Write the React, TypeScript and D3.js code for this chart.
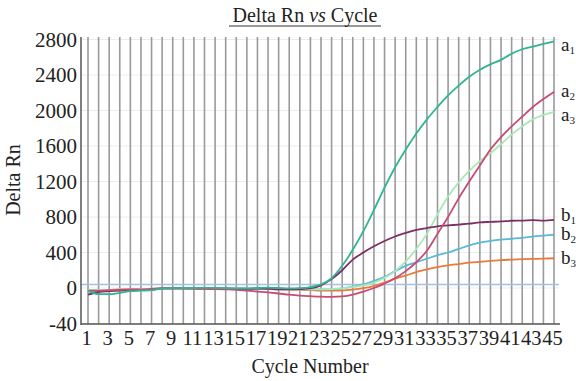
import React from "react";
import * as d3 from "d3";

const cycles = [1,2,3,4,5,6,7,8,9,10,11,12,13,14,15,16,17,18,19,20,21,22,23,24,25,26,27,28,29,30,31,32,33,34,35,36,37,38,39,40,41,42,43,44,45];

const a1 = [-30,-70,-70,-55,-35,-30,-25,-5,-2,0,0,2,0,-2,-5,-5,0,5,0,-5,-2,10,40,110,250,430,640,880,1130,1360,1560,1740,1900,2040,2170,2280,2380,2460,2520,2570,2640,2690,2720,2750,2780];
const a2 = [-30,-30,-25,-20,-15,-15,-10,-5,-5,-5,-8,-10,-12,-15,-20,-30,-40,-50,-62,-75,-85,-92,-98,-100,-95,-75,-40,0,50,110,190,290,420,610,800,1010,1200,1380,1560,1700,1820,1930,2040,2130,2210];
const a3 = [-20,-20,-20,-15,-15,-10,-10,-5,-5,-5,-5,-5,-5,-5,-5,-5,-8,-10,-10,-12,-15,-15,-15,-12,-5,10,30,60,115,190,300,440,610,830,1030,1190,1320,1430,1520,1620,1730,1820,1900,1950,1985];
const b1 = [-75,-45,-35,-30,-20,-20,-20,-5,-5,-5,-3,-3,-5,-8,-10,-10,-8,-10,-15,-15,-12,-5,30,100,200,320,400,470,530,580,620,655,675,695,705,715,725,740,745,750,758,760,765,760,768];
const b2 = [-40,-35,-30,-25,-20,-20,-15,-5,-5,-5,-5,-5,-5,-5,-5,-5,-5,-10,-10,-10,-12,-15,-15,-15,-5,15,40,80,125,190,250,290,330,370,400,440,480,510,530,545,555,565,580,590,600];
const b3 = [-20,-20,-20,-15,-15,-15,-10,-5,-5,-5,-5,-5,-5,-5,-8,-10,-10,-12,-15,-18,-20,-25,-30,-30,-28,-18,-2,22,60,105,140,180,210,235,255,270,285,295,305,315,320,325,328,330,335];

const seriesNames = ["b3", "b2", "a3", "b1", "a2", "a1"];
const seriesValues = [b3, b2, a3, b1, a2, a1];
const seriesColors = ["#ea7a3a", "#58b9d8", "#a9e8b4", "#7c2f64", "#c84b76", "#2fb592"];

const labelMain = ["a", "a", "a", "b", "b", "b"];
const labelSub = ["1", "2", "3", "1", "2", "3"];
const labelBaselines = [51, 97, 121, 221, 240, 264];

const yTickValues = [-400, 0, 400, 800, 1200, 1600, 2000, 2400, 2800];
const yTickLabels = ["-40", "0", "400", "800", "1200", "1600", "2000", "2400", "2800"];
const xTickValues = [1,3,5,7,9,11,13,15,17,19,21,23,25,27,29,31,33,35,37,39,41,43,45];
const threshold = 40;

const W = 576, H = 381;
const left = 81, right = 559, top = 37, bottom = 324;

export default function App() {
  const x = d3.scaleLinear().domain([1, 45]).range([88, 554]);
  const y = d3.scaleLinear().domain([-400, 2800]).range([323.5, 39.5]);
  const line = d3.line<number>()
    .x((_, i) => x(cycles[i]))
    .y((d) => y(d))
    .curve(d3.curveMonotoneX);
  const font = "'Liberation Serif', 'Times New Roman', serif";
  return (
    <svg width={W} height={H} style={{ position: "absolute", left: 0, top: 0, background: "#fff" }} fontFamily={font}>
      {yTickValues.map((v) => (
        <line key={"h" + v} x1={left} x2={right} y1={y(v)} y2={y(v)} stroke="#ececec" strokeWidth={1} />
      ))}
      {cycles.map((c) => (
        <line key={"v" + c} x1={x(c)} x2={x(c)} y1={top} y2={bottom} stroke="#9a9a9a" strokeWidth={1.6} />
      ))}
      <line x1={left} x2={right} y1={y(threshold)} y2={y(threshold)} stroke="#a4bfe4" strokeWidth={1.5} />
      {seriesValues.map((vals, i) => (
        <path key={seriesNames[i]} d={line(vals) || ""} fill="none" stroke={seriesColors[i]} strokeWidth={1.8} />
      ))}
      <line x1={left} x2={left} y1={top} y2={bottom + 1} stroke="#555" strokeWidth={1.5} />
      <line x1={left} x2={right + 1} y1={bottom} y2={bottom} stroke="#555" strokeWidth={1.5} />
      {yTickValues.map((v, i) => (
        <text key={"yt" + v} x={77} y={y(v)} dy="0.35em" textAnchor="end" fontSize={21} fill="#222">{yTickLabels[i]}</text>
      ))}
      {xTickValues.map((c) => (
        <text key={"xt" + c} x={x(c) - 1.5} y={345} textAnchor="middle" fontSize={20.5} fill="#222">{c}</text>
      ))}
      <text x={305} y={22} textAnchor="middle" fontSize={20} fill="#222">
        Delta Rn <tspan fontStyle="italic">vs</tspan> Cycle
      </text>
      <line x1={229} x2={381} y1={26} y2={26} stroke="#333" strokeWidth={1.2} />
      <text x={310} y={373} textAnchor="middle" fontSize={20} fill="#222">Cycle Number</text>
      <text transform="translate(20,180) rotate(-90)" textAnchor="middle" fontSize={20} fill="#222">Delta Rn</text>
      {labelMain.map((m, i) => (
        <text key={"lab" + i} x={561} y={labelBaselines[i]} fontSize={19} fill="#222">
          {m}<tspan fontSize={11} dy={3}>{labelSub[i]}</tspan>
        </text>
      ))}
    </svg>
  );
}
